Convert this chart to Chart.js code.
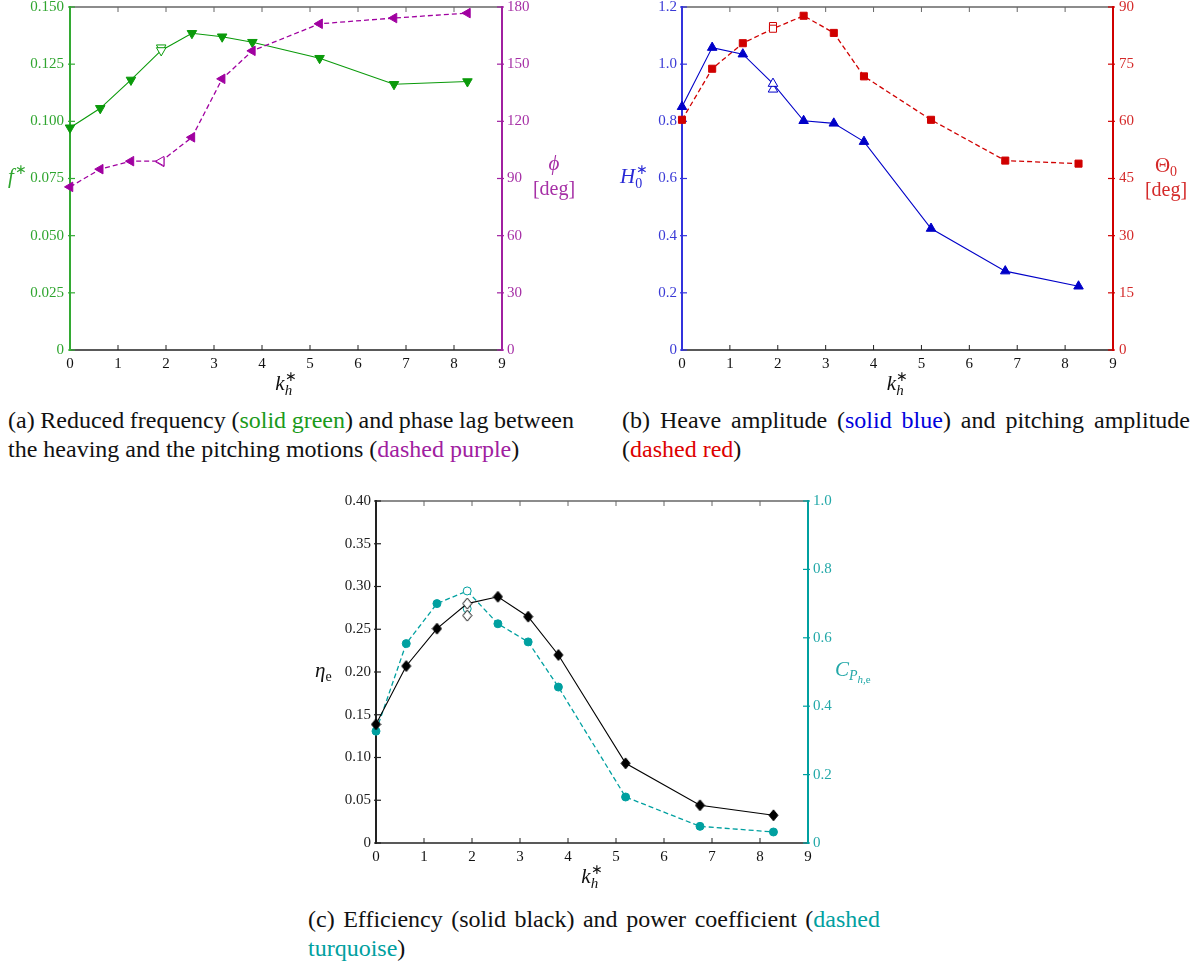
<!DOCTYPE html>
<html>
<head>
<meta charset="utf-8">
<script src="https://cdn.jsdelivr.net/npm/chart.js@4.4.1/dist/chart.umd.min.js"></script>
<style>
  body { margin: 0; background: #fff; width: 1197px; height: 961px; position: relative; overflow: hidden; font-family: "Liberation Serif", "Times New Roman", serif; }
  canvas.panel { position: absolute; }
  .cap { position: absolute; font-size: 24px; line-height: 29px; color: #111; white-space: nowrap; }
  .cap .j { text-align: justify; text-align-last: justify; word-spacing: -3px; }
  .green { color: #1a9a1a; }
  .purple { color: #a020a0; }
  .blue { color: #0000dd; }
  .red { color: #dd0000; }
  .teal { color: #00a0a0; }
</style>
</head>
<body>
<canvas id="chartA" class="panel" width="600" height="400" style="left:0;top:0"></canvas>
<canvas id="chartB" class="panel" width="597" height="400" style="left:600px;top:0"></canvas>
<canvas id="chartC" class="panel" width="600" height="400" style="left:300px;top:490px"></canvas>

<div class="cap" style="left:8px;top:406px;width:566px">
  <div class="j">(a) Reduced frequency (<span class="green">solid green</span>) and phase lag between</div>
  <div>the heaving and the pitching motions (<span class="purple">dashed purple</span>)</div>
</div>
<div class="cap" style="left:622px;top:406px;width:568px">
  <div class="j">(b) Heave amplitude (<span class="blue">solid blue</span>) and pitching amplitude</div>
  <div>(<span class="red">dashed red</span>)</div>
</div>
<div class="cap" style="left:308px;top:905px;width:572px">
  <div class="j">(c) Efficiency (solid black) and power coefficient (<span class="teal">dashed</span></div>
  <div><span class="teal">turquoise</span>)</div>
</div>

<script>
// Reduced heave stiffness k_h* shared by all three panels
const kh = [0, 0.63, 1.27, 1.9, 2.54, 3.17, 3.8, 5.2, 6.75, 8.28];

// (a) reduced frequency and phase lag
const fStar = [0.0972, 0.1057, 0.1181, 0.131, 0.1385, 0.137, 0.1346, 0.1276, 0.1162, 0.1174];
const fStarRepeat = [0.1322];
const phiDeg = [85.6, 94.9, 99.1, 99.1, 111.6, 142.3, 157.0, 171.2, 174.2, 176.8];
const phiRepeat = [98.7];

// (b) heave and pitching amplitudes
const heaveAmp = [0.851, 1.058, 1.035, 0.932, 0.802, 0.793, 0.729, 0.425, 0.276, 0.223];
const heaveRepeat = [0.912];
const pitchDeg = [60.4, 73.8, 80.5, 84.3, 87.7, 83.2, 71.8, 60.4, 49.7, 48.9];
const pitchRepeat = [85.0];

// (c) efficiency and power coefficient
const etaE = [0.1388, 0.207, 0.2507, 0.280, 0.288, 0.2647, 0.2199, 0.0932, 0.0441, 0.0324];
const etaRepeat = [0.266];
const cpHe = [0.327, 0.583, 0.700, 0.737, 0.641, 0.588, 0.456, 0.1345, 0.0487, 0.0322];
const cpRepeat = [0.685];

// index of the repeated (hollow) measurement
const REPEAT_IDX = 3;

const TICK_FONT = { family: '"Liberation Serif", serif', size: 15 };

/**
 * Tall diamond marker, drawn once into a small canvas
 */
function diamond(fill, stroke) {
  const c = document.createElement('canvas');
  c.width = 11; c.height = 13;
  const g = c.getContext('2d');
  g.beginPath();
  g.moveTo(5.5, 1); g.lineTo(10, 6.5); g.lineTo(5.5, 12); g.lineTo(1, 6.5); g.closePath();
  g.fillStyle = fill; g.fill();
  g.strokeStyle = stroke; g.lineWidth = 1; g.stroke();
  return c;
}

/**
 * Pair k_h values with a series
 */
function toPoints(values) {
  return values.map((v, i) => ({ x: kh[i], y: v }));
}

/**
 * Main line series; the repeated point is drawn hollow
 */
function lineSeries(values, axis, color, marker, dashed) {
  const n = values.length;
  const style = marker.style;
  return {
    data: toPoints(values),
    yAxisID: axis,
    borderColor: color,
    borderWidth: dashed ? 1.3 : 1.1,
    borderDash: dashed ? [5, 3] : [],
    tension: 0,
    clip: false,
    pointStyle: Array.isArray(style) ? style : Array(n).fill(style),
    pointRotation: marker.rotation || 0,
    pointRadius: marker.radius,
    pointBorderWidth: 1,
    pointBorderColor: color,
    pointBackgroundColor: values.map((_, i) => (i === REPEAT_IDX ? '#fff' : color))
  };
}

/**
 * Extra hollow markers for the repeated measurement at k_h = 1.9
 */
function repeatSeries(values, axis, color, marker) {
  return {
    data: values.map(v => ({ x: kh[REPEAT_IDX], y: v })),
    yAxisID: axis,
    showLine: false,
    clip: false,
    pointStyle: marker.style,
    pointRotation: marker.rotation || 0,
    pointRadius: marker.radius,
    pointBorderWidth: 1,
    pointBorderColor: color,
    pointBackgroundColor: 'rgba(255,255,255,0)'
  };
}

/**
 * Draw a run of text pieces (italic symbols, sub/superscripts).
 * A piece with `stack` starts at the same x as the piece before it.
 */
function drawRuns(ctx, x, y, runs, color, align) {
  const fontOf = r => `${r.italic ? 'italic ' : ''}${r.size}px "Liberation Serif", serif`;
  const widths = runs.map(r => { ctx.font = fontOf(r); return ctx.measureText(r.t).width; });
  let cursor = 0, prev = 0;
  const xs = runs.map((r, i) => {
    const start = r.stack ? prev : cursor;
    prev = start;
    cursor = Math.max(cursor, start + widths[i]);
    return start;
  });
  const x0 = align === 'center' ? x - cursor / 2 : x;
  ctx.fillStyle = color;
  ctx.textBaseline = 'alphabetic';
  ctx.textAlign = 'left';
  runs.forEach((r, i) => {
    ctx.font = fontOf(r);
    ctx.fillText(r.t, x0 + xs[i] + (r.dx || 0), y + (r.dy || 0));
  });
}

// Axis frame with inward ticks, plus the axis symbols
const axisFrame = {
  id: 'axisFrame',
  beforeDatasetsDraw(chart, args, o) {
    const { ctx, chartArea: a, scales } = chart;
    const x = scales.x, yl = scales.y, yr = scales.y2;
    ctx.save();
    ctx.lineCap = 'butt';

    // top border and ticks
    ctx.strokeStyle = '#666';
    ctx.lineWidth = 1.5;
    ctx.beginPath(); ctx.moveTo(a.left, a.top); ctx.lineTo(a.right, a.top); ctx.stroke();
    ctx.lineWidth = 1;
    x.ticks.forEach(t => {
      const px = x.getPixelForValue(t.value);
      ctx.beginPath(); ctx.moveTo(px, a.top); ctx.lineTo(px, a.top + 5); ctx.stroke();
    });

    // bottom axis and ticks
    ctx.strokeStyle = '#222';
    ctx.lineWidth = 1.5;
    ctx.beginPath(); ctx.moveTo(a.left, a.bottom); ctx.lineTo(a.right, a.bottom); ctx.stroke();
    ctx.lineWidth = 1;
    x.ticks.forEach(t => {
      const px = x.getPixelForValue(t.value);
      ctx.beginPath(); ctx.moveTo(px, a.bottom); ctx.lineTo(px, a.bottom - 5); ctx.stroke();
    });

    // left axis
    ctx.strokeStyle = o.left;
    ctx.lineWidth = 2;
    ctx.beginPath(); ctx.moveTo(a.left, a.top - 1); ctx.lineTo(a.left, a.bottom + 1); ctx.stroke();
    ctx.lineWidth = 1.2;
    yl.ticks.forEach(t => {
      const py = yl.getPixelForValue(t.value);
      ctx.beginPath(); ctx.moveTo(a.left - 2, py); ctx.lineTo(a.left + 5, py); ctx.stroke();
    });

    // right axis
    ctx.strokeStyle = o.right;
    ctx.lineWidth = 2;
    ctx.beginPath(); ctx.moveTo(a.right, a.top - 1); ctx.lineTo(a.right, a.bottom + 1); ctx.stroke();
    ctx.lineWidth = 1.2;
    yr.ticks.forEach(t => {
      const py = yr.getPixelForValue(t.value);
      ctx.beginPath(); ctx.moveTo(a.right + 2, py); ctx.lineTo(a.right - 5, py); ctx.stroke();
    });
    ctx.restore();
  },
  afterDraw(chart, args, o) {
    const ctx = chart.ctx;
    ctx.save();
    (o.titles || []).forEach(l => drawRuns(ctx, l.x, l.y, l.runs, l.color, l.align));
    ctx.restore();
  }
};

/**
 * Shared options for a two-y-axis panel
 */
function panelOptions({ top, bottom, leftW, rightW, left, right, frame }) {
  const tickNum = (digits) => v => (v === 0 ? '0' : Number(v).toFixed(digits));
  // fixed axis sizes; no extra room reserved for overhanging labels
  const fixW = w => s => { s.width = w; s.paddingTop = 0; s.paddingBottom = 0; };
  return {
    responsive: false,
    animation: false,
    layout: { padding: { top, left: 0, right: 0, bottom: 0 } },
    plugins: {
      legend: { display: false },
      tooltip: { enabled: false },
      axisFrame: frame
    },
    scales: {
      x: {
        type: 'linear',
        min: 0, max: 9,
        grid: { display: false, drawTicks: false },
        border: { display: false },
        ticks: { stepSize: 1, font: TICK_FONT, color: '#111', padding: 5, maxRotation: 0 },
        afterFit: s => { s.height = bottom; s.paddingLeft = 0; s.paddingRight = 0; }
      },
      y: {
        position: 'left',
        min: 0, max: left.max,
        grid: { display: false, drawTicks: false },
        border: { display: false },
        ticks: { stepSize: left.step, font: TICK_FONT, color: left.color, padding: left.pad, callback: tickNum(left.digits) },
        afterFit: fixW(leftW)
      },
      y2: {
        position: 'right',
        min: 0, max: right.max,
        grid: { display: false, drawTicks: false },
        border: { display: false },
        ticks: { stepSize: right.step, font: TICK_FONT, color: right.color, padding: right.pad, callback: tickNum(right.digits) },
        afterFit: fixW(rightW)
      }
    }
  };
}

const sym = (t, size, extra) => Object.assign({ t, size, italic: true }, extra || {});
const txt = (t, size, extra) => Object.assign({ t, size, italic: false }, extra || {});
const khTitle = (x, y) => ({
  x, y, align: 'center', color: '#111',
  runs: [sym('k', 21), txt('∗', 14, { dy: -9 }), sym('h', 15, { stack: true, dy: 5 })]
});

// (a) frequency / phase lag
const GREEN = '#0a9a0a', PURPLE = '#a000a0';
const downTri = { style: 'triangle', rotation: 180, radius: 5.5 };
const leftTri = { style: 'triangle', rotation: 270, radius: 5.5 };

new Chart(document.getElementById('chartA'), {
  type: 'line',
  data: {
    datasets: [
      lineSeries(phiDeg, 'y2', PURPLE, leftTri, true),
      repeatSeries(phiRepeat, 'y2', PURPLE, leftTri),
      lineSeries(fStar, 'y', GREEN, downTri, false),
      repeatSeries(fStarRepeat, 'y', GREEN, downTri)
    ]
  },
  options: panelOptions({
    top: 7, bottom: 50, leftW: 70, rightW: 98,
    left: { max: 0.15, step: 0.025, digits: 3, color: '#2fa52f', pad: 6 },
    right: { max: 180, step: 30, digits: 0, color: '#a630a6', pad: 5 },
    frame: {
      left: '#33aa33', right: '#a020a0',
      titles: [
        { x: 8, y: 183, color: '#2fa52f', runs: [sym('f', 21), txt('∗', 14, { dy: -9, dx: 1 })] },
        { x: 554, y: 170, align: 'center', color: '#a630a6', runs: [sym('ϕ', 21)] },
        { x: 554, y: 195, align: 'center', color: '#a630a6', runs: [txt('[deg]', 20)] },
        khTitle(286, 390)
      ]
    }
  }),
  plugins: [axisFrame]
});

// (b) heave / pitching amplitude
const BLUE = '#0000c8', RED = '#d00000';
const upTri = { style: 'triangle', rotation: 0, radius: 5.5 };
const square = { style: 'rect', rotation: 0, radius: 5 };

new Chart(document.getElementById('chartB'), {
  type: 'line',
  data: {
    datasets: [
      lineSeries(heaveAmp, 'y', BLUE, upTri, false),
      repeatSeries(heaveRepeat, 'y', BLUE, upTri),
      lineSeries(pitchDeg, 'y2', RED, square, true),
      repeatSeries(pitchRepeat, 'y2', RED, square)
    ]
  },
  options: panelOptions({
    top: 7, bottom: 50, leftW: 82, rightW: 84,
    left: { max: 1.2, step: 0.2, digits: 1, color: '#3a3ad6', pad: 5 },
    right: { max: 90, step: 15, digits: 0, color: '#d42a2a', pad: 6 },
    frame: {
      left: '#3333dd', right: '#d00000',
      titles: [
        { x: 20, y: 183, color: '#2a2ad6', runs: [sym('H', 21), txt('∗', 14, { dy: -9, dx: 1 }), txt('0', 14, { stack: true, dy: 5 })] },
        { x: 566, y: 172, align: 'center', color: '#d42a2a', runs: [txt('Θ', 21), txt('0', 14, { dy: 4 })] },
        { x: 566, y: 196, align: 'center', color: '#d42a2a', runs: [txt('[deg]', 20)] },
        khTitle(297.5, 390)
      ]
    }
  }),
  plugins: [axisFrame]
});

// (c) efficiency / power coefficient
const BLACK = '#000', TEAL = '#00a0a0';
const solidDiamond = diamond('#000', '#000');
const hollowDiamond = diamond('rgba(255,255,255,1)', '#000');
const etaMarker = { style: kh.map((_, i) => (i === REPEAT_IDX ? hollowDiamond : solidDiamond)), radius: 5 };
const dot = { style: 'circle', rotation: 0, radius: 4 };

new Chart(document.getElementById('chartC'), {
  type: 'line',
  data: {
    datasets: [
      lineSeries(etaE, 'y', BLACK, etaMarker, false),
      repeatSeries(etaRepeat, 'y', BLACK, { style: hollowDiamond, radius: 5 }),
      lineSeries(cpHe, 'y2', TEAL, dot, true),
      repeatSeries(cpRepeat, 'y2', TEAL, dot)
    ]
  },
  options: panelOptions({
    top: 11, bottom: 47, leftW: 76, rightW: 92,
    left: { max: 0.4, step: 0.05, digits: 2, color: '#222', pad: 5 },
    right: { max: 1.0, step: 0.2, digits: 1, color: '#22a8a8', pad: 5 },
    frame: {
      left: '#222', right: '#00a0a0',
      titles: [
        { x: 15, y: 187, color: '#111', runs: [sym('η', 21), txt('e', 14, { dy: 4 })] },
        { x: 535, y: 186, color: '#22a8a8', runs: [sym('C', 21), sym('P', 14, { dy: 4 }), sym('h', 11, { dy: 7 }), txt(',e', 11, { dy: 7 })] },
        khTitle(292, 393)
      ]
    }
  }),
  plugins: [axisFrame]
});
</script>
</body>
</html>
